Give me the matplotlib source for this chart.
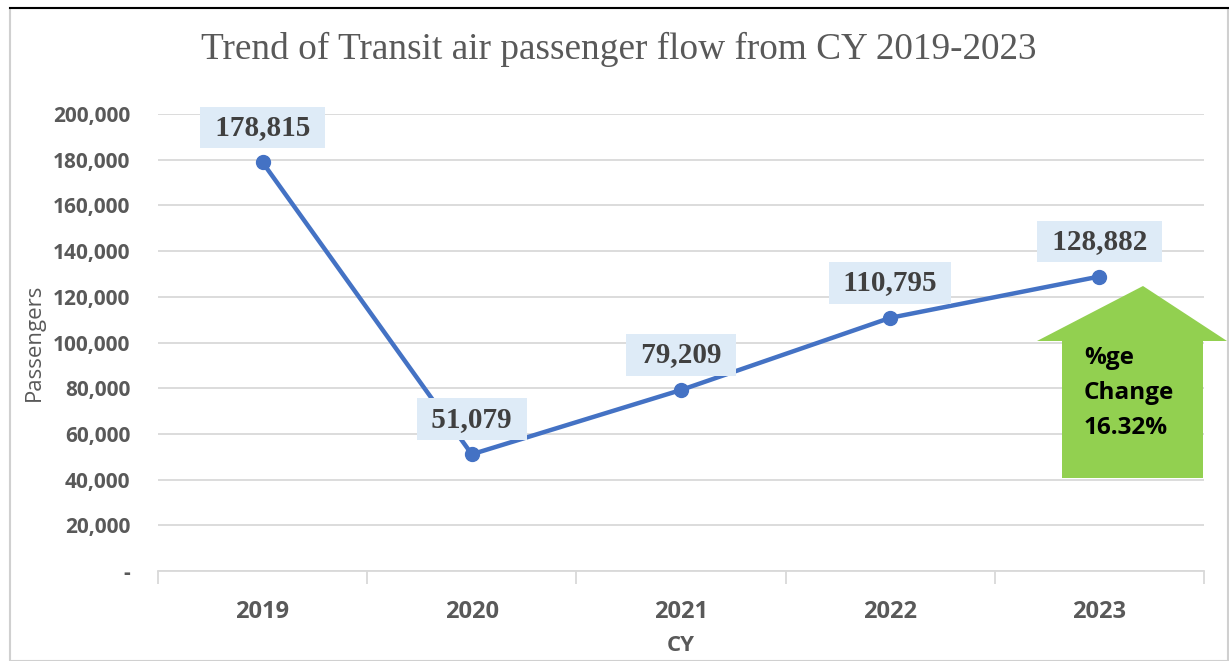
import numpy as np
import matplotlib.pyplot as plt
from matplotlib.patches import Polygon, Rectangle
from matplotlib.lines import Line2D
from matplotlib.ticker import FuncFormatter

# dados do grafico
anos = ["2019", "2020", "2021", "2022", "2023"]
passageiros = [178815, 51079, 79209, 110795, 128882]
yticks = list(range(0, 200001, 20000))
titulo = "Trend of Transit air passenger flow from CY 2019-2023"
texto_seta = "%ge\nChange\n16.32%"

cinza = "#595959"
azul = "#4472C4"

fig = plt.figure(figsize=(12.29, 6.61), dpi=100)
W, H = 1229, 661

# moldura do grafico
fig.patches.append(Rectangle((10 / W, 0), 1218 / W, (H - 8) / H, transform=fig.transFigure,
                             fill=False, edgecolor="#D0D0D0", linewidth=1.5))
fig.lines.append(Line2D([10 / W, 1], [(H - 8) / H] * 2, transform=fig.transFigure,
                        color="black", linewidth=1.5))

ax = fig.add_axes([158 / W, (H - 571) / H, 1046 / W, 457 / H])
xs = np.arange(len(anos))
ax.plot(xs, passageiros, color=azul, linewidth=3.2, marker="o", markersize=10, zorder=3,
        solid_capstyle="round")

ax.set_xlim(-0.5, len(anos) - 0.5)
ax.set_ylim(0, 200000)
ax.set_yticks(yticks)
ax.yaxis.set_major_formatter(FuncFormatter(lambda v, p: "-" if v == 0 else f"{int(v):,}"))
ax.grid(axis="y", color="#D9D9D9", linewidth=1.3)
ax.set_axisbelow(True)
for s in ["top", "right", "left"]:
    ax.spines[s].set_visible(False)
ax.spines["bottom"].set_color("#D9D9D9")
ax.spines["bottom"].set_linewidth(1.3)

ax.set_xticks(xs)
ax.set_xticklabels(anos)
ax.set_xticks(np.arange(-0.5, len(anos)), minor=True)
ax.tick_params(axis="x", which="major", length=0, pad=21)
ax.tick_params(axis="x", which="minor", length=9, color="#D9D9D9", width=1.3)
ax.tick_params(axis="y", length=0, pad=20)
for lab in ax.get_xticklabels():
    lab.set_fontfamily("Open Sans")
    lab.set_fontweight("bold")
    lab.set_fontsize(17)
    lab.set_color(cinza)
for lab in ax.get_yticklabels():
    lab.set_fontfamily("Open Sans")
    lab.set_fontweight("bold")
    lab.set_fontsize(15)
    lab.set_color(cinza)

ax.set_xlabel("CY", fontfamily="Open Sans", fontweight="bold", fontsize=16, color=cinza, labelpad=8)
ax.set_ylabel("Passengers", fontfamily="Open Sans", fontsize=16, color=cinza, labelpad=6)

# rotulos de dados
for x, v in zip(xs, passageiros):
    ax.annotate(f" {v:,} ", (x, v), xytext=(0, 35), textcoords="offset pixels",
                ha="center", va="center", fontfamily="Liberation Serif", fontweight="bold",
                fontsize=21, color="#404040",
                bbox=dict(boxstyle="square,pad=0.25", facecolor="#DEEBF7", edgecolor="none"))

# titulo
fig.text(619 / W, (H - 49) / H, titulo, ha="center", va="center", fontfamily="Liberation Serif",
         fontsize=26.8, color=cinza)

# seta verde
def fr(px, py):
    return ((px - 158) / 1046, (571 - py) / 457)

pts = [fr(1143, 286), fr(1227, 341), fr(1203, 341), fr(1203, 478),
       fr(1062, 478), fr(1062, 341), fr(1037, 341)]
ax.add_patch(Polygon(pts, closed=True, transform=ax.transAxes, facecolor="#92D050",
                     edgecolor="none", clip_on=False, zorder=4))
tx, ty = fr(1084, 393)
ax.text(tx, ty, texto_seta, transform=ax.transAxes, ha="left", va="center",
        fontfamily="Open Sans", fontweight="bold", fontsize=17.5, color="black",
        linespacing=1.63, zorder=5)

fig.savefig("out.png", dpi=100)
